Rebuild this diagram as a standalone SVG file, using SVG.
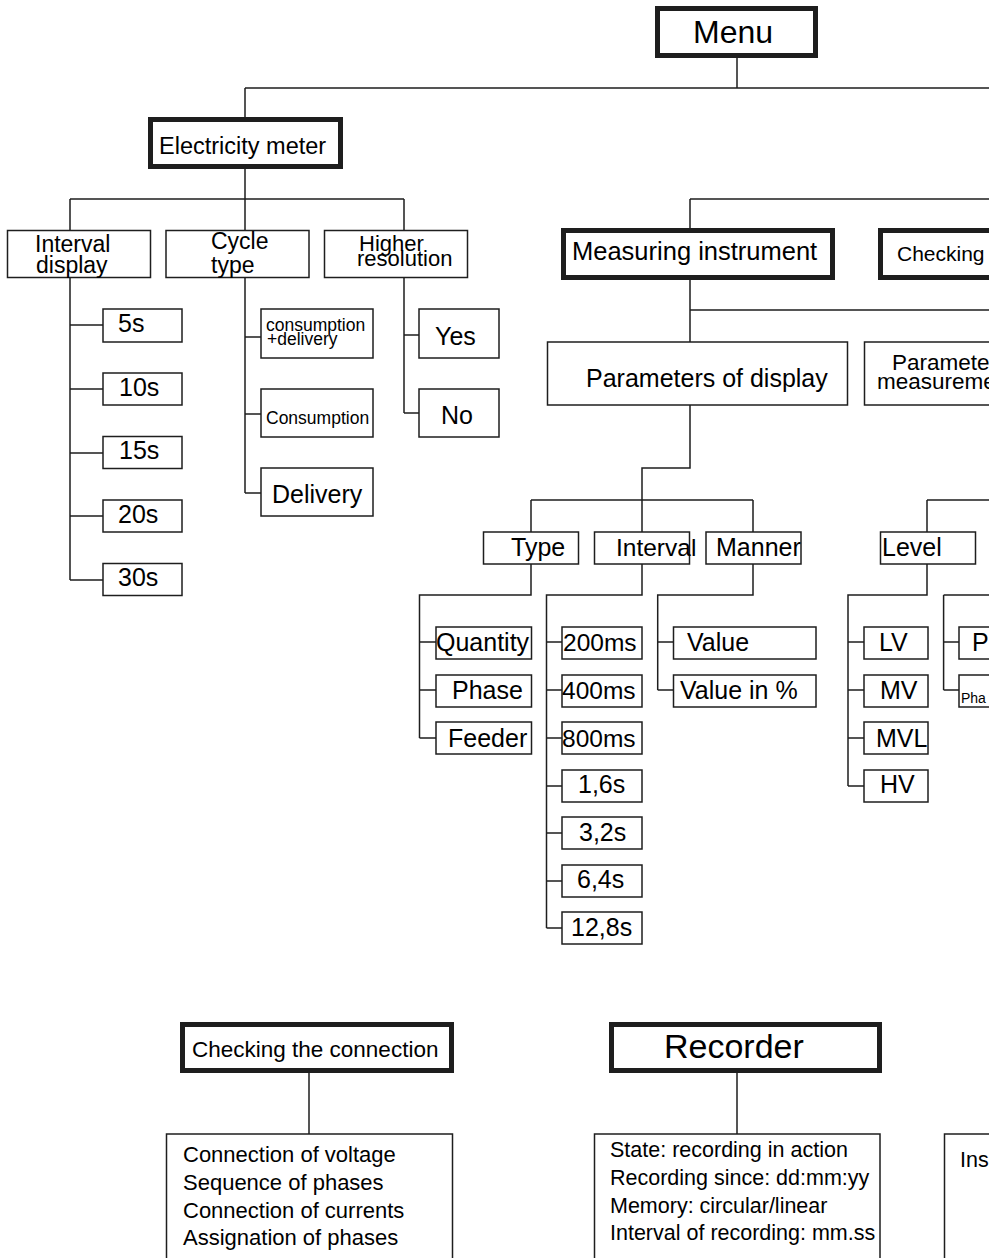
<svg xmlns="http://www.w3.org/2000/svg" width="989" height="1258" viewBox="0 0 989 1258">
<style>
.t{font-family:"Liberation Sans",Arial,Helvetica,sans-serif;fill:#000}
.b{fill:#fff;stroke:#1e1e1e;stroke-width:1.5}
.k{fill:#fff;stroke:#1e1e1e;stroke-width:5}
.c{fill:none;stroke:#1e1e1e;stroke-width:1.5}
</style>
<rect width="989" height="1258" fill="#fff"/>
<g id="connectors" class="c">
<path d="M737,58V88 M245,88H989 M245,88V117 M245,169V199 M70,199H404 M70,199V230 M245,199V230 M404,199V230"/>
<path d="M70,277V580 M70,325H103 M70,389H103 M70,453H103 M70,516H103 M70,580H103"/>
<path d="M245,277V493 M245,337H261 M245,414H261 M245,493H261"/>
<path d="M404,277V413 M404,335H419 M404,413H419"/>
<path d="M690,199H989 M690,199V229 M690,280V342 M690,310H989"/>
<path d="M690,405V468H642V532 M531,500H753 M531,500V532 M753,500V532 M927,500H989 M927,500V532"/>
<path d="M531,564V595H419.5V738 M419.5,642H436 M419.5,690H436 M419.5,738H436"/>
<path d="M642,564V595H546.5V928 M546.5,642H562 M546.5,690H562 M546.5,738H562 M546.5,786H562 M546.5,833H562 M546.5,881H562 M546.5,928H562"/>
<path d="M753,564V595H657.7V690 M657.7,642H673.5 M657.7,690H673.5"/>
<path d="M927,564V595H848V786 M848,642H864 M848,690H864 M848,738H864 M848,786H864"/>
<path d="M943.6,595H989 M943.6,595V690 M943.6,642H959 M943.6,690H959"/>
<path d="M309,1073V1134 M737,1073V1134"/>
</g>
<g id="menu"><rect class="k" x="657.5" y="8.5" width="158" height="47"/><text class="t" x="693" y="43" font-size="32">Menu</text></g>
<g id="electricity-meter"><rect class="k" x="150.5" y="119.5" width="190" height="47"/><text class="t" x="159" y="154" font-size="23.5">Electricity meter</text></g>
<g id="interval-display"><rect class="b" x="7.5" y="230.5" width="143" height="47"/><text class="t" x="35" y="252" font-size="23">Interval</text><text class="t" x="36" y="273" font-size="23">display</text></g>
<g id="cycle-type"><rect class="b" x="166" y="230.5" width="143" height="47"/><text class="t" x="211" y="249" font-size="23">Cycle</text><text class="t" x="211" y="273" font-size="23">type</text></g>
<g id="higher-resolution"><rect class="b" x="324.5" y="230.5" width="143" height="47"/><text class="t" x="359" y="251" font-size="22">Higher</text><text class="t" x="357" y="266" font-size="22">resolution</text></g>
<g id="i5"><rect class="b" x="103" y="309" width="79" height="33"/><text class="t" x="118" y="332" font-size="25">5s</text></g>
<g id="i10"><rect class="b" x="103" y="373" width="79" height="32"/><text class="t" x="119" y="396" font-size="25">10s</text></g>
<g id="i15"><rect class="b" x="103" y="436.5" width="79" height="32"/><text class="t" x="119" y="459" font-size="25">15s</text></g>
<g id="i20"><rect class="b" x="103" y="500" width="79" height="32"/><text class="t" x="118" y="523" font-size="25">20s</text></g>
<g id="i30"><rect class="b" x="103" y="563.5" width="79" height="32"/><text class="t" x="118" y="586" font-size="25">30s</text></g>
<g id="cons-deliv"><rect class="b" x="261" y="309" width="112" height="49"/><text class="t" x="266" y="331" font-size="17.5">consumption</text><text class="t" x="267" y="345" font-size="17.5">+delivery</text></g>
<g id="consumption"><rect class="b" x="261" y="389" width="112" height="48"/><text class="t" x="266" y="424" font-size="17.5">Consumption</text></g>
<g id="delivery"><rect class="b" x="261" y="468" width="112" height="48"/><text class="t" x="272" y="503" font-size="25">Delivery</text></g>
<g id="yes"><rect class="b" x="419" y="309" width="80" height="49"/><text class="t" x="435" y="345" font-size="25">Yes</text></g>
<g id="no"><rect class="b" x="419" y="389" width="80" height="48"/><text class="t" x="441" y="424" font-size="25">No</text></g>
<g id="measuring-instrument"><rect class="k" x="563.5" y="230.5" width="269" height="47"/><text class="t" x="572" y="260" font-size="25.5">Measuring instrument</text></g>
<g id="checking"><rect class="k" x="880.5" y="230.5" width="150" height="47"/><text class="t" x="897" y="261" font-size="21">Checking</text></g>
<g id="params-display"><rect class="b" x="547.5" y="342" width="300" height="63"/><text class="t" x="586" y="387" font-size="25">Parameters of display</text></g>
<g id="params-measurement"><rect class="b" x="864.5" y="342" width="140" height="63"/><text class="t" x="892" y="370" font-size="22.5">Parameters</text><text class="t" x="877" y="389" font-size="22.5">measurement</text></g>
<g id="type"><rect class="b" x="483.5" y="532" width="95" height="32"/><text class="t" x="511" y="556" font-size="25">Type</text></g>
<g id="interval"><rect class="b" x="594.5" y="532" width="95" height="32"/><text class="t" x="616" y="556" font-size="24.5">Interval</text></g>
<g id="manner"><rect class="b" x="706" y="532" width="95" height="32"/><text class="t" x="716" y="556" font-size="25">Manner</text></g>
<g id="level"><rect class="b" x="880.5" y="532" width="95" height="32"/><text class="t" x="882" y="556" font-size="25">Level</text></g>
<g id="quantity"><rect class="b" x="436" y="627" width="95.5" height="32"/><text class="t" x="436" y="651" font-size="25">Quantity</text></g>
<g id="phase"><rect class="b" x="436" y="675" width="95.5" height="32"/><text class="t" x="452" y="699" font-size="25">Phase</text></g>
<g id="feeder"><rect class="b" x="436" y="722" width="95.5" height="32"/><text class="t" x="448" y="747" font-size="25">Feeder</text></g>
<g id="ms200"><rect class="b" x="562" y="627" width="80" height="32"/><text class="t" x="563" y="651" font-size="24.5">200ms</text></g>
<g id="ms400"><rect class="b" x="562" y="675" width="80" height="32"/><text class="t" x="562" y="699" font-size="24.5">400ms</text></g>
<g id="ms800"><rect class="b" x="562" y="722" width="80" height="32"/><text class="t" x="562" y="747" font-size="24.5">800ms</text></g>
<g id="s16"><rect class="b" x="562" y="770" width="80" height="32"/><text class="t" x="578" y="793" font-size="25">1,6s</text></g>
<g id="s32"><rect class="b" x="562" y="817" width="80" height="32"/><text class="t" x="579" y="841" font-size="25">3,2s</text></g>
<g id="s64"><rect class="b" x="562" y="865" width="80" height="32"/><text class="t" x="577" y="888" font-size="25">6,4s</text></g>
<g id="s128"><rect class="b" x="562" y="912" width="80" height="32"/><text class="t" x="571" y="936" font-size="25">12,8s</text></g>
<g id="value"><rect class="b" x="673.5" y="627" width="142.5" height="32"/><text class="t" x="687" y="651" font-size="25">Value</text></g>
<g id="value-pct"><rect class="b" x="673.5" y="675" width="142.5" height="32"/><text class="t" x="680" y="699" font-size="25">Value in %</text></g>
<g id="lv"><rect class="b" x="864" y="627" width="64" height="32"/><text class="t" x="879" y="651" font-size="25">LV</text></g>
<g id="mv"><rect class="b" x="864" y="675" width="64" height="32"/><text class="t" x="880" y="699" font-size="25">MV</text></g>
<g id="mvl"><rect class="b" x="864" y="722" width="64" height="32"/><text class="t" x="876" y="747" font-size="25">MVL</text></g>
<g id="hv"><rect class="b" x="864" y="770" width="64" height="32"/><text class="t" x="880" y="793" font-size="25">HV</text></g>
<g id="p-box"><rect class="b" x="959" y="627" width="60" height="32"/><text class="t" x="972" y="651" font-size="25">P</text></g>
<g id="pha-box"><rect class="b" x="959" y="675" width="60" height="32"/><text class="t" x="961" y="703" font-size="14">Pha</text></g>
<g id="checking-connection"><rect class="k" x="182.5" y="1024.5" width="269" height="46"/><text class="t" x="192" y="1057" font-size="22.5">Checking the connection</text></g>
<g id="checking-list"><rect class="b" x="166.5" y="1134" width="286" height="160"/><text class="t" x="183" y="1162" font-size="22">Connection of voltage</text><text class="t" x="183" y="1190" font-size="22">Sequence of phases</text><text class="t" x="183" y="1218" font-size="22">Connection of currents</text><text class="t" x="183" y="1245" font-size="22">Assignation of phases</text></g>
<g id="recorder"><rect class="k" x="611.5" y="1024.5" width="268" height="46"/><text class="t" x="664" y="1058" font-size="34">Recorder</text></g>
<g id="recorder-list"><rect class="b" x="594.5" y="1134" width="285.5" height="160"/><text class="t" x="610" y="1157" font-size="21.5">State: recording in action</text><text class="t" x="610" y="1185" font-size="21.5">Recording since: dd:mm:yy</text><text class="t" x="610" y="1213" font-size="21.5">Memory: circular/linear</text><text class="t" x="610" y="1240" font-size="21.5">Interval of recording: mm.ss</text></g>
<g id="third-list"><rect class="b" x="944.5" y="1134" width="80" height="160"/><text class="t" x="960" y="1167" font-size="21.5">Ins</text></g>
</svg>
